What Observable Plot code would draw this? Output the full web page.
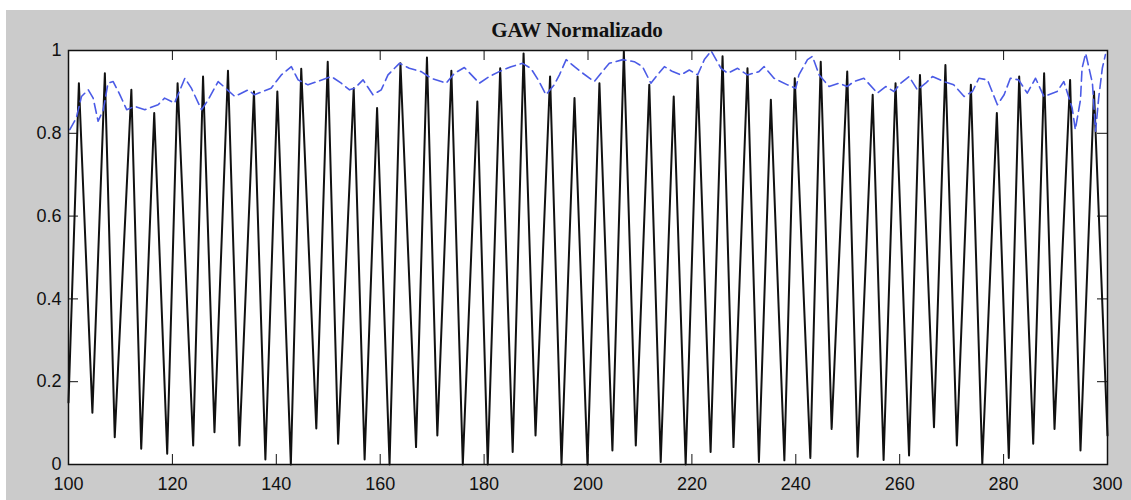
<!DOCTYPE html>
<html>
<head>
<meta charset="utf-8">
<script src="https://cdn.jsdelivr.net/npm/d3@7"></script>
<script src="https://cdn.jsdelivr.net/npm/@observablehq/plot@0.6"></script>
<style>
  html, body { margin: 0; padding: 0; background: #ffffff; }
  #wrap { position: absolute; left: 6px; top: 10px; width: 1125px; height: 490px; background: #cbcbcb; }
  #title { height: 22px; line-height: 22px; text-align: center; padding-left: 17px; box-sizing: border-box;
           font-family: "Liberation Serif", "Times New Roman", serif; font-size: 21px; font-weight: bold;
           color: #111; transform: translateY(9px); }
  #chart svg { display: block; }
</style>
</head>
<body>
<div id="wrap">
  <div id="title">GAW Normalizado</div>
  <div id="chart"></div>
</div>
<script>
// Black signal: alternating troughs and peaks
const gawX = [100, 102.0, 104.6, 107.0, 108.9, 112.1, 114.0, 116.5, 119.0, 121.0, 124.0, 125.9, 128.1, 130.7, 132.9, 135.7, 137.9, 140.2, 142.8, 144.8,
  147.7, 149.9, 151.9, 154.9, 157.0, 159.4, 161.8, 163.9, 166.9, 169.0, 171.0, 173.7, 175.9, 178.7, 180.7, 183.1, 185.5, 187.6, 189.9, 192.7,
  194.9, 197.4, 199.9, 202.2, 204.7, 206.9, 209.2, 211.8, 214.0, 216.5, 218.8, 221.1, 223.6, 225.9, 228.0, 230.7, 232.9, 235.2, 237.8, 239.8,
  242.8, 244.8, 246.9, 249.9, 251.9, 254.8, 256.9, 259.2, 261.8, 263.9, 266.6, 268.8, 271.0, 273.7, 275.9, 278.7, 281.0, 283.0, 285.7, 287.8,
  289.8, 292.8, 294.8, 297.4, 300];
const gawY = [0.15, 0.921, 0.125, 0.945, 0.066, 0.905, 0.038, 0.849, 0.026, 0.921, 0.046, 0.937, 0.078, 0.951, 0.046, 0.901, 0.012, 0.901, 0.0, 0.956,
  0.087, 0.973, 0.05, 0.909, 0.012, 0.861, 0.0, 0.969, 0.042, 0.983, 0.07, 0.951, 0.0, 0.877, 0.0, 0.957, 0.03, 0.993, 0.07, 0.937,
  0.0, 0.885, 0.0, 0.921, 0.034, 0.998, 0.046, 0.917, 0.006, 0.889, 0.0, 0.937, 0.03, 0.986, 0.042, 0.957, 0.006, 0.881, 0.01, 0.933,
  0.016, 0.973, 0.086, 0.949, 0.019, 0.893, 0.011, 0.921, 0.022, 0.941, 0.09, 0.965, 0.046, 0.917, 0.002, 0.849, 0.016, 0.937, 0.05, 0.945,
  0.086, 0.929, 0.034, 0.901, 0.07];

// Blue dashed envelope
const envX = [100.25, 101.5, 102.5, 103.8, 104.75, 105.7, 106.7, 107.6, 108.6, 109.9, 111.2, 112.75, 114.7, 117.25, 118.5, 120.4, 122.4, 123.65, 125.6, 126.9,
  128.8, 132.0, 134.6, 135.8, 139.0, 140.96, 142.9, 144.2, 146.1, 148.3, 150.6, 152.5, 154.1, 155.1, 156.7, 158.6, 160.2, 161.5, 163.7, 165.6,
  167.9, 169.8, 172.7, 174.3, 176.2, 179.1, 181.0, 182.9, 185.2, 187.4, 189.0, 190.6, 191.9, 193.5, 194.5, 195.8, 197.4, 199.0, 201.2, 202.5,
  204.1, 206.7, 208.9, 210.5, 212.1, 213.1, 214.7, 216.3, 217.9, 219.5, 221.1, 222.4, 223.7, 225.6, 226.9, 228.8, 230.7, 232.9, 233.9, 235.8,
  238.4, 240.0, 240.6, 242.25, 243.2, 244.5, 246.4, 248.3, 249.9, 251.2, 253.1, 255.7, 257.3, 258.9, 260.2, 261.8, 263.4, 265.0, 266.3, 268.5,
  270.4, 272.4, 274.0, 275.25, 276.9, 278.8, 280.1, 281.3, 282.9, 284.55, 286.15, 287.75, 290.3, 291.6, 293.2, 293.8, 294.8, 295.1, 295.8, 297.1,
  297.7, 298.3, 299.0, 299.6];
const envY = [0.809, 0.837, 0.889, 0.905, 0.885, 0.829, 0.857, 0.921, 0.925, 0.893, 0.857, 0.865, 0.857, 0.869, 0.885, 0.873, 0.933, 0.909, 0.857, 0.881,
  0.925, 0.889, 0.905, 0.893, 0.909, 0.941, 0.961, 0.929, 0.917, 0.927, 0.937, 0.921, 0.905, 0.909, 0.929, 0.893, 0.905, 0.941, 0.969, 0.957,
  0.949, 0.933, 0.921, 0.945, 0.959, 0.921, 0.937, 0.949, 0.961, 0.969, 0.957, 0.925, 0.893, 0.917, 0.941, 0.978, 0.961, 0.945, 0.925, 0.945,
  0.969, 0.978, 0.973, 0.961, 0.921, 0.937, 0.961, 0.949, 0.941, 0.953, 0.941, 0.978, 0.999, 0.957, 0.945, 0.957, 0.941, 0.949, 0.961, 0.933,
  0.917, 0.909, 0.941, 0.978, 0.986, 0.941, 0.913, 0.921, 0.913, 0.925, 0.933, 0.897, 0.913, 0.901, 0.921, 0.937, 0.905, 0.921, 0.937, 0.925,
  0.917, 0.889, 0.901, 0.933, 0.929, 0.869, 0.893, 0.933, 0.929, 0.897, 0.933, 0.889, 0.901, 0.925, 0.861, 0.809, 0.881, 0.957, 0.993, 0.921,
  0.805, 0.885, 0.957, 0.99];

const xTicks = [100, 120, 140, 160, 180, 200, 220, 240, 260, 280, 300];
const yTicks = [0, 0.2, 0.4, 0.6, 0.8, 1];
const yTickLabels = ["0", "0.2", "0.4", "0.6", "0.8", "1"];

const gaw = gawX.map((x, i) => ({x, y: gawY[i]}));
const env = envX.map((x, i) => ({x, y: envY[i]}));

const W = 1125, H = 468, mL = 62, mR = 24, mT = 18, mB = 36;
const frameW = W - mL - mR, frameH = H - mT - mB, tickLen = 10;

const chart = Plot.plot({
  width: W, height: H,
  marginLeft: mL, marginRight: mR, marginTop: mT, marginBottom: mB,
  x: {domain: [100, 300], label: null},
  y: {domain: [0, 1], label: null},
  style: {background: "transparent", fontFamily: "'Liberation Sans', Arial, sans-serif", fontSize: "18px", color: "#111"},
  marks: [
    Plot.frame({fill: "white", stroke: null}),
    Plot.line(gaw, {x: "x", y: "y", stroke: "#111", strokeWidth: 2}),
    Plot.line(env, {x: "x", y: "y", stroke: "#4b5be6", strokeWidth: 1.6, strokeDasharray: "10,5"}),
    Plot.tickX(xTicks, {x: d => d, insetTop: frameH - tickLen, stroke: "#111"}),
    Plot.tickX(xTicks, {x: d => d, insetBottom: frameH - tickLen, stroke: "#111"}),
    Plot.tickY(yTicks, {y: d => d, insetRight: frameW - tickLen, stroke: "#111"}),
    Plot.tickY(yTicks, {y: d => d, insetLeft: frameW - tickLen, stroke: "#111"}),
    Plot.axisX(xTicks, {tickSize: 0, tickPadding: 13, label: null}),
    Plot.axisY(yTicks, {tickSize: 0, tickPadding: 7, label: null, tickFormat: (d, i) => yTickLabels[i]}),
    Plot.frame({stroke: "#111", strokeWidth: 1.5})
  ]
});
document.getElementById("chart").appendChild(chart);
</script>
</body>
</html>
